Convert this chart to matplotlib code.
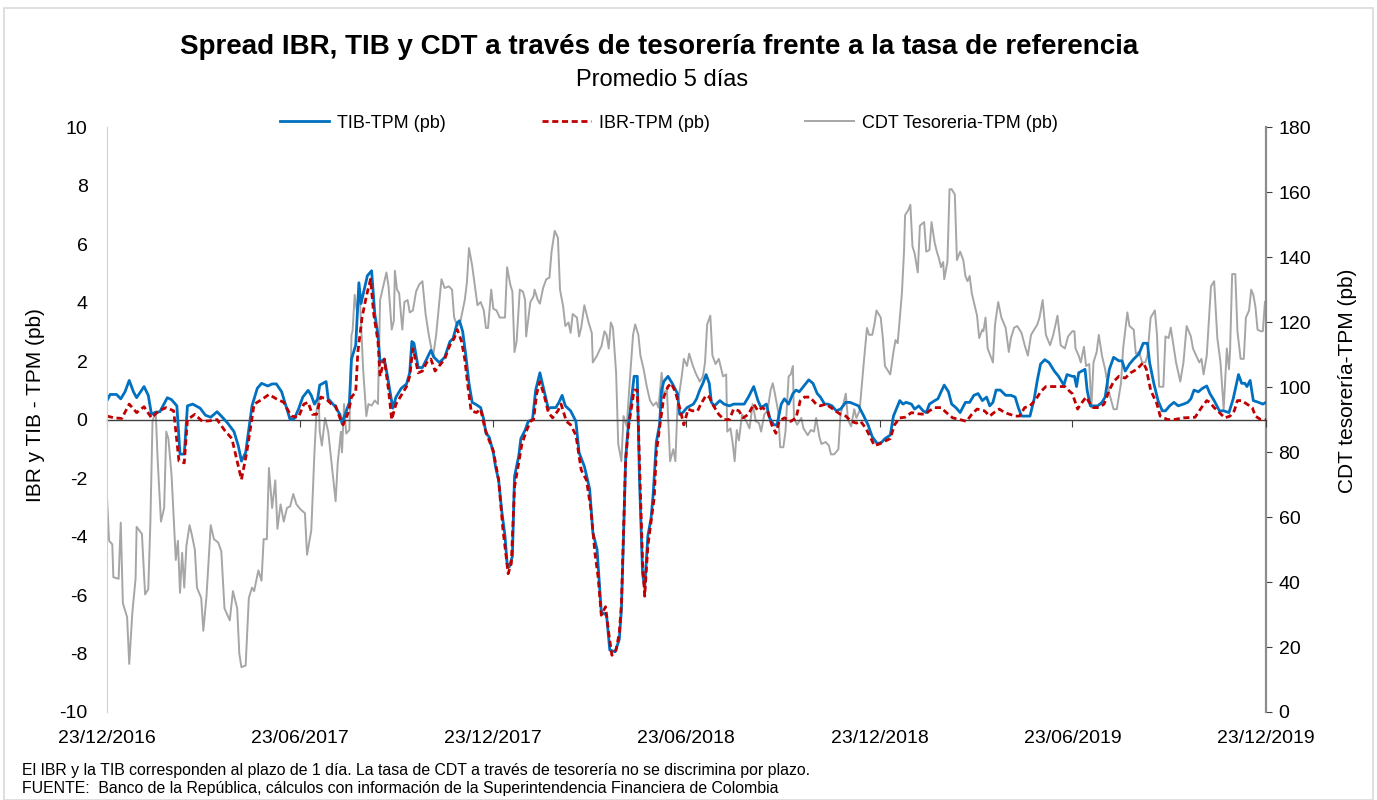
import numpy as np
import pandas as pd
import matplotlib
matplotlib.use("Agg")
import matplotlib.pyplot as plt
from matplotlib.patches import Rectangle

plt.rcParams['font.family'] = ['Liberation Sans', 'DejaVu Sans']
plt.rcParams['axes.unicode_minus'] = False

# days counted from 23/12/2016
start = pd.Timestamp('2016-12-23')

tib_day = [0, 3, 9, 13, 17, 21, 25, 28, 35, 39, 42, 45, 50, 57, 61, 66, 69, 73, 76, 81,
           88, 93, 98, 104, 109, 114, 120, 124, 127, 131, 137, 142, 146, 152, 156, 160, 165, 170, 173, 177, 181,
           182, 185, 190, 193, 196, 199, 201, 207, 209, 215, 220, 222, 225, 229, 231, 235, 238, 240, 243, 246,
           250, 253, 256, 258, 262, 265, 270, 273, 278, 283, 286, 288, 290, 294, 298, 302, 306, 309, 314, 319,
           324, 327, 331, 333, 336, 339, 342, 345, 349, 353, 356, 358, 361,
           365, 367, 370, 373, 376, 378, 380, 383, 385, 389, 391, 395, 398, 402, 405, 409, 412, 417, 419, 424,
           427, 430, 433, 438, 443, 446, 451, 456, 459, 463, 467, 472, 475, 480, 484, 486, 488, 490, 492, 495,
           498, 501, 503, 506, 508, 511, 514, 516, 519, 522, 524, 526, 530, 534, 539, 541, 544,
           548, 554, 557, 560, 563, 566, 569, 571, 574, 579, 583, 588, 592, 597, 602, 606, 611, 615, 618, 623,
           626, 630, 633, 637, 640, 644, 648, 651, 654, 658, 663, 667, 671, 674, 678, 681, 685, 689, 693, 698,
           702, 706, 710, 715, 719, 723, 728,
           732, 735, 740, 743, 745, 749, 752, 755, 760, 763, 767, 771, 774, 777, 782, 785, 788, 791, 795, 798,
           802, 806, 811, 815, 819, 823, 827, 831, 834, 837, 840, 844, 849, 854, 858, 861, 864, 868, 872, 876,
           879, 882, 886, 890, 895, 899, 904, 907,
           912, 914, 916, 918, 924, 926, 929, 936, 940, 943, 947, 951, 956, 959, 962, 966, 970, 975, 979, 983,
           985, 989, 993, 997, 1000, 1004, 1008, 1012, 1017, 1021, 1024, 1027, 1031, 1035, 1039, 1042, 1046,
           1051, 1055, 1060, 1064, 1069, 1072, 1075, 1077, 1080, 1083, 1088, 1092, 1095]
tib_val = [0.65, 0.86, 0.86, 0.71, 0.95, 1.34, 0.95, 0.75, 1.13, 0.83, 0.18, 0.24, 0.27, 0.75, 0.68, 0.47, -1.18, -1.18, 0.47, 0.53,
           0.39, 0.15, 0.08, 0.27, 0.08, -0.12, -0.41, -0.89, -1.42, -1.13, 0.47, 1.07, 1.24, 1.15, 1.22, 1.22, 0.95, 0.36, 0.0, 0.04, 0.36,
           0.47, 0.77, 1.0, 0.83, 0.53, 0.71, 1.18, 1.30, 0.71, 0.47, 0.18, -0.12, 0.18, 0.59, 2.07, 2.55, 4.68, 3.97, 4.44, 4.92,
           5.09, 3.61, 2.90, 1.95, 2.07, 1.48, 0.39, 0.77, 1.07, 1.22, 1.60, 2.67, 2.61, 1.78, 1.78, 2.07, 2.37, 2.13, 1.95, 2.13,
           2.67, 2.78, 3.32, 3.38, 3.02, 2.19, 1.24, 0.59, 0.51, 0.41, 0.0, -0.47, -0.59,
           -1.13, -1.60, -2.07, -3.14, -3.97, -4.92, -5.04, -4.68, -1.95, -1.24, -0.65, -0.36, -0.06, 0.0, 1.01, 1.60, 1.13, 0.36, 0.41, 0.41,
           0.59, 0.83, 0.47, 0.30, -0.06, -1.13, -1.60, -2.37, -3.85, -4.44, -6.58, -6.69, -7.88, -7.94, -7.52, -6.5, -4.0, -1.36, -0.41, 0.53,
           1.48, 1.48, -1.95, -5.27, -5.75, -3.97, -3.38, -2.55, -0.77, -0.18, 1.01, 1.30, 1.48, 1.24, 0.89, 0.18, 0.24,
           0.41, 0.53, 0.71, 1.01, 1.24, 1.54, 1.24, 0.59, 0.47, 0.65, 0.53, 0.47, 0.53, 0.53, 0.53, 0.77, 1.13, 0.65, 0.41, 0.53,
           0.06, -0.18, -0.18, 0.53, 0.71, 0.53, 0.89, 1.01, 0.95, 1.13, 1.36, 1.24, 0.89, 0.77, 0.53, 0.53, 0.47, 0.30, 0.36, 0.59,
           0.59, 0.53, 0.47, 0.12, -0.18, -0.59, -0.83,
           -0.77, -0.65, -0.53, 0.12, 0.30, 0.65, 0.53, 0.59, 0.53, 0.36, 0.47, 0.30, 0.24, 0.53, 0.65, 0.71, 0.95, 1.18, 0.95, 0.53,
           0.41, 0.24, 0.59, 0.59, 0.83, 0.89, 0.65, 0.77, 0.47, 0.59, 1.01, 1.01, 0.83, 0.83, 0.77, 0.41, 0.12, 0.12, 0.12, 0.71,
           1.36, 1.90, 2.05, 1.95, 1.66, 1.48, 1.18, 1.54,
           1.48, 1.48, 1.13, 1.60, 1.72, 1.01, 0.47, 0.47, 0.59, 0.77, 1.72, 2.13, 2.01, 2.01, 1.66, 1.90, 2.07, 2.25, 2.61, 2.61,
           1.95, 1.24, 0.65, 0.30, 0.30, 0.47, 0.59, 0.47, 0.53, 0.59, 0.71, 1.01, 0.95, 1.07, 1.15, 0.89, 0.65,
           0.30, 0.30, 0.24, 0.71, 1.54, 1.24, 1.24, 1.13, 1.34, 0.65, 0.59, 0.53, 0.59]

ibr_day = [0, 7, 14, 21, 28, 35, 42, 49, 56, 63, 68, 73, 76, 83, 90, 97, 104, 111, 118, 127,
           132, 139, 146, 153, 160, 167, 174, 181,
           182, 186, 190, 194, 198, 202, 207, 212, 216, 220, 223, 228, 231, 235, 237, 241, 245, 249, 252, 256,
           258, 262, 266, 269, 273, 278, 283, 286, 289, 290, 294, 298, 302, 306, 310, 314, 319, 324, 328, 331,
           335, 338, 341, 344, 349, 353, 357, 361,
           365, 370, 374, 379, 382, 385, 389, 392, 396, 400, 403, 406, 409, 413, 417, 421, 426, 429, 434, 438,
           443, 448, 453, 457, 461, 464, 467, 471, 474, 477, 481, 484, 486, 488, 490, 493, 496, 498, 501, 503,
           506, 508, 511, 514, 517, 519, 522, 526, 530, 533, 537, 541, 545,
           549, 553, 558, 561, 566, 569, 573, 578, 583, 588, 592, 597, 601, 606, 611, 615, 619, 624, 628, 632,
           635, 640, 646, 651, 655, 659, 664, 670, 674, 679, 684, 688, 693, 698, 703, 708, 712, 717, 721, 725, 730,
           733, 740, 744, 749, 754, 760, 766, 773, 777, 782, 788, 793, 799, 806, 812, 817, 822, 829, 834, 838,
           843, 848, 853, 858, 862, 867, 872, 878, 882, 887, 892, 899, 905, 910,
           912, 917, 920, 925, 928, 932, 937, 942, 947, 951, 956, 962, 967, 973, 979, 982, 986, 992, 995, 1002,
           1008, 1017, 1028, 1034, 1039, 1042, 1046, 1051, 1056, 1061, 1065, 1068, 1072, 1077, 1082, 1085, 1090, 1095]
ibr_val = [0.12, 0.06, 0.04, 0.53, 0.24, 0.44, 0.06, 0.30, 0.41, 0.30, -1.42, -1.48, 0.0, 0.18, -0.06, -0.04, 0.0, -0.36, -0.65, -2.05,
           -1.13, 0.53, 0.68, 0.86, 0.71, 0.59, 0.12, 0.08,
           0.18, 0.53, 0.59, 0.18, 0.18, 0.77, 0.71, 0.53, 0.47, 0.06, -0.18, 0.24, 0.77, 0.95, 2.31, 3.50, 4.21, 4.80, 3.61, 2.67,
           1.48, 2.07, 1.01, 0.0, 0.53, 0.83, 1.13, 1.48, 2.43, 2.31, 1.60, 1.66, 1.95, 2.07, 1.66, 1.84, 2.07, 2.55, 2.78, 3.08,
           2.67, 2.07, 1.13, 0.30, 0.24, 0.36, -0.30, -0.71,
           -1.07, -2.07, -3.73, -5.27, -4.92, -2.31, -1.48, -0.83, -0.41, -0.06, 0.0, 0.89, 1.30, 0.83, 0.24, 0.06, 0.30, 0.53, -0.06, -0.18,
           -0.53, -1.72, -2.07, -3.02, -4.56, -5.39, -6.69, -6.40, -7.29, -8.06, -7.88, -7.29, -6.3, -3.8, -1.36, -0.18, 0.53, 1.01, 1.01, -1.36,
           -4.92, -6.04, -4.32, -3.50, -2.67, -1.13, -0.30, 0.77, 1.13, 1.24, 0.95, 0.41, -0.18,
           0.36, 0.30, 0.30, 0.53, 0.83, 0.77, 0.47, 0.18, 0.0, 0.0, 0.36, 0.30, 0.06, 0.18, 0.53, 0.30, 0.41, 0.30, -0.18, -0.47,
           -0.06, 0.06, -0.06, 0.06, 0.65, 0.77, 0.77, 0.53, 0.47, 0.53, 0.41, 0.30, 0.18, 0.12, -0.06, -0.12, -0.06, -0.30, -0.59, -0.89, -0.83,
           -0.77, -0.65, -0.18, 0.06, 0.08, 0.24, 0.20, 0.18, 0.30, 0.41, 0.41, 0.24, 0.06, 0.0, -0.06, 0.18, 0.36, 0.30, 0.12, 0.24,
           0.36, 0.24, 0.18, 0.12, 0.12, 0.41, 0.47, 0.71, 0.95, 1.13, 1.13, 1.13, 1.13, 0.95,
           0.89, 0.36, 0.53, 0.77, 0.59, 0.41, 0.41, 0.53, 1.01, 1.30, 1.48, 1.42, 1.60, 1.72, 1.95, 1.72, 1.01, 0.53, 0.12, 0.0,
           0.0, 0.06, 0.08, 0.41, 0.65, 0.59, 0.41, 0.24, 0.06, 0.12, 0.30, 0.65, 0.65, 0.53, 0.41, 0.12, 0.0, 0.0]

cdt_day = [0, 2, 5, 6, 11, 13, 15, 19, 21, 24, 27, 28, 33, 36, 39, 41, 43, 46, 48, 51,
           54, 56, 58, 61, 63, 65, 67, 69, 71, 73, 75, 78, 80, 83, 85, 89, 91, 94, 98, 101,
           105, 108, 111, 116, 119, 123, 125, 127, 131, 134, 137, 139, 143, 146, 148, 151, 153, 156, 159, 161,
           164, 167, 170, 173, 176, 179,
           183, 187, 189, 193, 196, 198, 200, 201, 203, 206, 209, 212, 216, 218, 221, 222, 224, 226, 229, 231,
           232, 234, 236, 239, 242, 245, 247, 250, 253, 256, 258, 261, 264, 266, 269, 271, 272, 274, 276, 279,
           281, 284, 286, 289, 292, 295, 298, 301, 304, 308, 311, 316, 319, 323, 326, 328, 331, 334, 338, 340,
           342, 345, 347, 350, 353, 356, 358, 360, 363,
           365, 368, 371, 376, 378, 381, 383, 385, 387, 390, 393, 395, 396, 400, 403, 404, 407, 409, 412, 415,
           418, 420, 423, 426, 428, 431, 433, 436, 438, 440, 444, 446, 448, 451, 455, 458, 459, 463, 466, 467,
           470, 472, 474, 476, 478, 481, 483, 486, 488, 491, 494, 497, 499, 502, 504, 507, 510, 513, 516, 519,
           521, 524, 526, 529, 532, 535, 537, 539, 543, 545,
           548, 550, 553, 556, 560, 563, 565, 567, 570, 572, 575, 578, 582, 585, 586, 589, 591, 593, 595, 597,
           600, 604, 607, 610, 613, 616, 618, 621, 624, 627, 629, 631, 634, 636, 639, 641, 644, 646, 648, 649,
           652, 656, 658, 662, 665, 668, 670, 673, 675, 679, 682, 684, 687, 691, 693, 696, 698, 700, 703, 706,
           708, 711, 715, 718, 720, 723, 725, 727,
           731, 733, 735, 740, 743, 745, 747, 749, 751, 753, 754, 757, 759, 761, 763, 766, 768, 772, 774, 777,
           779, 782, 784, 786, 788, 790, 791, 794, 796, 798, 801, 803, 806, 809, 811, 813, 815, 817, 820, 822,
           824, 827, 828, 830, 832, 837, 839, 842, 845, 849, 852, 854, 857, 860, 864, 867, 870, 873, 876, 879,
           881, 884, 887, 891, 894, 898, 901, 905, 908,
           912, 914, 915, 918, 920, 923, 925, 928, 930, 932, 935, 937, 940, 943, 947, 951, 954, 958, 960, 964,
           966, 970, 972, 975, 978, 981, 983, 986, 990, 992, 994, 998, 1000, 1003, 1005, 1008, 1010, 1014, 1017, 1020,
           1024, 1026, 1029, 1032, 1034, 1036, 1039, 1043, 1046, 1049, 1052, 1055, 1058, 1060, 1061, 1063, 1066, 1068, 1071, 1074,
           1076, 1079, 1081, 1083, 1085, 1087, 1090, 1092, 1094]
cdt_val = [66.0, 52.7, 51.6, 41.5, 41.0, 58.3, 33.5, 29.2, 14.8, 30.8, 41.0, 57.0, 54.8, 36.2, 37.8, 58.6, 89.5, 92.5, 76.7, 58.6,
           62.8, 86.3, 84.1, 72.9, 59.6, 46.8, 52.7, 36.7, 49.0, 38.3, 51.1, 57.5, 54.8, 50.0, 38.3, 35.1, 25.0, 35.6, 57.5, 53.2,
           52.2, 49.5, 31.9, 28.2, 37.2, 31.9, 18.0, 13.8, 14.3, 35.1, 38.3, 37.2, 43.6, 40.4, 53.2, 53.2, 75.1, 62.8, 71.3, 56.4,
           63.9, 58.6, 62.8, 63.3, 67.1, 63.9,
           62.3, 61.2, 48.4, 55.9, 79.9, 92.7, 96.9, 86.3, 82.0, 90.5, 86.3, 77.2, 64.9, 76.7, 86.3, 79.9, 94.8, 85.7, 86.8, 116.1,
           117.2, 128.4, 123.6, 126.8, 105.5, 91.1, 94.8, 94.3, 95.9, 94.8, 126.8, 131.0, 135.3, 131.0, 117.7, 120.4, 135.8, 130.0, 128.9, 117.7,
           126.2, 126.8, 123.0, 123.6, 129.4, 131.6, 132.6, 122.5, 116.1, 109.2, 116.1, 133.2, 130.5, 131.0, 130.0, 121.4, 118.8, 120.4, 126.8, 132.1,
           142.8, 137.4, 132.6, 125.2, 126.2, 123.6, 118.2, 118.2, 130.0,
           124.1, 123.6, 121.4, 121.4, 136.9, 131.6, 129.4, 110.8, 114.0, 130.0, 129.4, 126.8, 115.6, 126.2, 127.9, 130.0, 126.8, 125.7, 130.5, 133.2,
           133.7, 141.7, 148.1, 146.0, 130.0, 124.7, 118.8, 119.9, 116.7, 122.5, 121.4, 115.6, 118.3, 125.2, 119.9, 116.7, 107.6, 109.7, 111.9, 112.4,
           117.2, 116.1, 111.9, 119.9, 118.3, 104.4, 82.5, 77.2, 91.1, 87.9, 102.3, 116.1, 119.3, 116.1, 109.7, 105.5, 100.1, 95.9, 94.3, 95.3,
           93.7, 104.4, 98.0, 99.1, 77.2, 80.9, 77.2, 94.3, 103.3, 108.7,
           106.5, 110.3, 107.1, 104.4, 101.7, 103.3, 107.6, 119.3, 122.0, 109.7, 107.1, 108.7, 103.3, 103.9, 86.3, 87.3, 83.1, 77.2, 86.8, 83.6,
           91.6, 89.5, 87.3, 94.8, 89.5, 88.9, 86.3, 91.6, 92.7, 99.1, 101.2, 98.0, 92.7, 81.5, 81.5, 86.3, 103.3, 103.9, 106.5, 90.5,
           88.4, 90.5, 87.3, 85.2, 86.8, 86.3, 90.5, 84.7, 82.5, 83.1, 82.0, 79.3, 79.3, 80.9, 91.6, 95.3, 98.0, 90.0, 87.9, 93.2,
           90.5, 92.7, 107.6, 118.2, 116.1, 116.1, 119.3, 123.6,
           121.4, 115.1, 106.5, 103.9, 110.8, 114.5, 113.5, 121.4, 128.9, 141.7, 152.9, 154.5, 156.1, 143.3, 141.2, 135.3, 149.7, 150.8, 141.7, 142.2,
           150.8, 144.4, 141.7, 139.6, 136.9, 138.5, 133.2, 138.5, 160.9, 160.9, 159.3, 139.1, 141.7, 139.1, 134.2, 132.6, 134.2, 128.9, 124.7, 122.0,
           115.1, 117.7, 117.2, 121.4, 111.9, 107.6, 119.3, 126.2, 121.4, 118.3, 110.8, 115.1, 118.3, 118.8, 116.7, 112.9, 109.7, 116.1, 117.7, 119.3,
           121.4, 126.8, 116.1, 112.9, 116.1, 122.0, 112.9, 111.9, 115.6,
           117.2, 117.2, 111.9, 109.7, 107.6, 112.4, 106.5, 107.1, 93.7, 107.6, 110.8, 116.1, 109.7, 105.5, 98.0, 93.2, 93.2, 101.2, 111.9, 123.0,
           118.8, 117.7, 110.3, 110.8, 107.6, 107.6, 109.7, 121.4, 123.6, 116.1, 100.1, 100.1, 115.6, 115.1, 118.3, 111.9, 107.6, 101.7, 107.6, 118.8,
           115.6, 111.9, 109.7, 107.6, 108.7, 103.9, 109.7, 131.0, 132.6, 115.1, 107.6, 93.2, 111.9, 105.5, 110.8, 134.8, 134.8, 117.2, 108.7, 108.7,
           121.4, 123.6, 130.0, 128.4, 124.7, 117.7, 117.2, 117.2, 126.2]

tick_dates = ['2016-12-23', '2017-06-23', '2017-12-23', '2018-06-23', '2018-12-23', '2019-06-23', '2019-12-23']

to_dates = lambda d: start + pd.to_timedelta(np.array(d), unit='D')

fig = plt.figure(figsize=(13.77, 8), dpi=100)
fig.patches.append(Rectangle((0.003, 0.0), 0.994, 0.99, transform=fig.transFigure,
                             fill=False, edgecolor='#d9d9d9', lw=1.2))
ax = fig.add_axes([0.0777, 0.11, 0.8417, 0.731])
ax2 = ax.twinx()
ax.set_zorder(ax2.get_zorder() + 1)
ax.patch.set_visible(False)

l3, = ax2.plot(to_dates(cdt_day), cdt_val, color='#a6a6a6', lw=1.4, label='CDT Tesoreria-TPM (pb)')
l1, = ax.plot(to_dates(tib_day), tib_val, color='#0070c0', lw=2.0, label='TIB-TPM (pb)')
l2, = ax.plot(to_dates(ibr_day), ibr_val, color='#c00000', lw=2.0, ls=(0, (2.2, 1.3)), label='IBR-TPM (pb)')

ticks = pd.to_datetime(tick_dates)
ax.set_xlim(ticks[0], ticks[-1])
ax.set_ylim(-10, 10)
ax.set_yticks(np.arange(-10, 11, 2))
ax2.set_ylim(0, 180)
ax2.set_yticks(np.arange(0, 181, 20))
ax.set_xticks(ticks)
ax.set_xticklabels([t.strftime('%d/%m/%Y') for t in ticks])

for a in (ax, ax2):
    a.spines['top'].set_visible(False)
    a.spines['bottom'].set_visible(False)
ax.spines['left'].set_color('#d0d0d0')
ax.spines['right'].set_visible(False)
ax2.spines['left'].set_visible(False)
ax2.spines['right'].set_color('#8c8c8c')
ax2.spines['right'].set_linewidth(1.6)

ax.tick_params(axis='x', length=0, pad=13, labelsize=14)
ax.tick_params(axis='y', length=0, pad=14, labelsize=14)
ax2.tick_params(axis='y', length=4, color='#404040', pad=5, labelsize=14)

# axis line at zero with the date ticks
zero = ax.secondary_xaxis(0.5)
zero.set_alignment('bottom')
zero.set_xticks(ticks)
zero.tick_params(axis='x', direction='out', length=5, color='#404040', labelbottom=False, labeltop=False)
zero.spines['bottom'].set_color('#404040')
zero.spines['bottom'].set_linewidth(1.0)

ax.set_ylabel('IBR y TIB - TPM (pb)', fontsize=15)
ax2.set_ylabel('CDT tesorería-TPM (pb)', fontsize=15)
ax.yaxis.set_label_coords(-0.0534, 0.525)
ax2.yaxis.set_label_coords(1.062, 0.567)

fig.legend(handles=[l1, l2, l3], loc='center', bbox_to_anchor=(0.486, 0.846), ncol=3,
           frameon=False, fontsize=13, handlelength=2.7, handletextpad=0.45, columnspacing=5.3)

fig.text(0.479, 0.941, 'Spread IBR, TIB y CDT a través de tesorería frente a la tasa de referencia',
         ha='center', va='center', fontsize=20, fontweight='bold')
fig.text(0.481, 0.9, 'Promedio 5 días', ha='center', va='center', fontsize=17)
fig.text(0.016, 0.0375, 'El IBR y la TIB corresponden al plazo de 1 día. La tasa de CDT a través de tesorería no se discrimina por plazo.',
         ha='left', va='center', fontsize=11.4)
fig.text(0.016, 0.014, 'FUENTE:  Banco de la República, cálculos con información de la Superintendencia Financiera de Colombia',
         ha='left', va='center', fontsize=11.4)

fig.savefig('out.png', dpi=100)
